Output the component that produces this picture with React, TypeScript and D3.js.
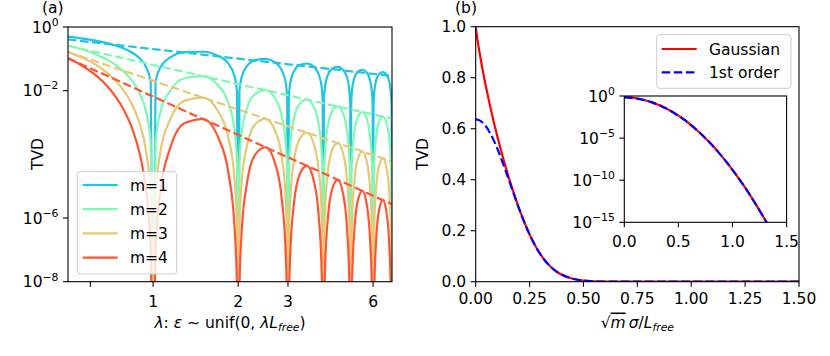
import React from 'react';
import * as d3 from 'd3';

// ---------- Panel (a) data ----------
const LAMBDA = [
  0.5, 0.55, 0.62, 0.7, 0.78, 0.85, 0.9, 0.94, 0.98, 1,
  1.02, 1.06, 1.15, 1.3, 1.5, 1.7, 1.85, 1.94, 1.98, 2,
  2.02, 2.06, 2.15, 2.3, 2.5, 2.7, 2.85, 2.94, 2.98, 3,
  3.02, 3.06, 3.15, 3.3, 3.5, 3.7, 3.85, 3.94, 3.98, 4,
  4.02, 4.06, 4.15, 4.3, 4.5, 4.7, 4.85, 4.94, 4.98, 5,
  5.02, 5.06, 5.15, 5.3, 5.5, 5.7, 5.85, 5.94, 5.98, 6,
  6.02, 6.06, 6.15, 6.3, 6.5, 6.7, 6.85, 6.94, 6.98, 7,
];

const TVD_M1 = [
  0.5, 0.45, 0.38, 0.3, 0.22, 0.15, 0.1, 0.06, 0.02, 1e-12,
  0.0192, 0.0532, 0.111, 0.162, 0.167, 0.124, 0.0689, 0.0291, 0.0099, 1e-12,
  0.0097, 0.0274, 0.0593, 0.0913, 0.1, 0.0778, 0.0447, 0.0192, 0.00658, 1e-12,
  0.00649, 0.0184, 0.0405, 0.0636, 0.0714, 0.0568, 0.0331, 0.0143, 0.00492, 1e-12,
  0.00488, 0.0139, 0.0307, 0.0488, 0.0556, 0.0447, 0.0263, 0.0114, 0.00394, 1e-12,
  0.0039, 0.0112, 0.0248, 0.0396, 0.0455, 0.0368, 0.0218, 0.0095, 0.00328, 1e-12,
  0.00326, 0.00931, 0.0207, 0.0333, 0.0385, 0.0313, 0.0186, 0.00813, 0.00281, 1e-12,
];

const TVD_M2 = [
  0.258, 0.208, 0.145, 0.0861, 0.0431, 0.0184, 0.00761, 0.00256, 0.000265, 1e-12,
  2.45e-4, 2.02e-3, 1.005e-2, 2.5e-2, 2.87e-2, 1.46e-2, 3.88e-3, 6.02e-4, 6.49e-5, 1e-12,
  6.23e-5, 5.34e-4, 2.88e-3, 7.98e-3, 1.03e-2, 5.79e-3, 1.64e-3, 2.62e-4, 2.87e-5, 1e-12,
  2.79e-5, 2.42e-4, 1.34e-3, 3.88e-3, 5.27e-3, 3.08e-3, 8.97e-4, 1.46e-4, 1.61e-5, 1e-12,
  1.58e-5, 1.37e-4, 7.72e-4, 2.28e-3, 3.19e-3, 1.91e-3, 5.65e-4, 9.28e-5, 1.03e-5, 1e-12,
  1.01e-5, 8.85e-5, 5.01e-4, 1.5e-3, 2.13e-3, 1.3e-3, 3.88e-4, 6.42e-5, 7.12e-6, 1e-12,
  7.02e-6, 6.17e-5, 3.52e-4, 1.06e-3, 1.53e-3, 9.4e-4, 2.83e-4, 4.7e-5, 5.22e-6, 1e-12,
];

const TVD_M3 = [
  0.164, 0.119, 0.0692, 0.0317, 0.0112, 0.00313, 8.31e-4, 1.63e-4, 5.4e-6, 1e-12,
  4.79e-6, 1.13e-4, 1.26e-3, 4.95e-3, 6.08e-3, 2.21e-3, 3.03e-4, 1.85e-5, 6.55e-7, 1e-12,
  6.17e-7, 1.55e-5, 1.93e-4, 8.94e-4, 1.31e-3, 5.52e-4, 8.3e-5, 5.32e-6, 1.92e-7, 1e-12,
  1.85e-7, 4.72e-6, 6.15e-5, 3.03e-4, 4.79e-4, 2.15e-4, 3.37e-5, 2.21e-6, 8.07e-8, 1e-12,
  7.83e-8, 2.02e-6, 2.69e-5, 1.37e-4, 2.25e-4, 1.05e-4, 1.68e-5, 1.12e-6, 4.12e-8, 1e-12,
  4.02e-8, 1.04e-6, 1.41e-5, 7.3e-5, 1.23e-4, 5.87e-5, 9.59e-6, 6.45e-7, 2.38e-8, 1e-12,
  2.33e-8, 6.07e-7, 8.26e-6, 4.35e-5, 7.48e-5, 3.61e-5, 5.98e-6, 4.04e-7, 1.5e-8, 1e-12,
];

const TVD_M4 = [
  0.105, 0.0679, 0.033, 0.0117, 2.91e-3, 5.32e-4, 9.09e-5, 1.03e-5, 1.1e-7, 1e-12,
  9.39e-8, 6.39e-6, 1.59e-4, 9.81e-4, 1.29e-3, 3.35e-4, 2.37e-5, 5.69e-7, 6.61e-9, 1e-12,
  6.1e-9, 4.47e-7, 1.3e-5, 1.0e-4, 1.67e-4, 5.27e-5, 4.21e-6, 1.08e-7, 1.29e-9, 1e-12,
  1.22e-9, 9.19e-8, 2.82e-6, 2.36e-5, 4.35e-5, 1.49e-5, 1.26e-6, 3.34e-8, 4.05e-10, 1e-12,
  3.89e-10, 2.97e-8, 9.37e-7, 8.19e-6, 1.59e-5, 5.74e-6, 5.02e-7, 1.35e-8, 1.65e-10, 1e-12,
  1.6e-10, 1.23e-8, 3.95e-7, 3.55e-6, 7.14e-6, 2.65e-6, 2.37e-7, 6.47e-9, 7.95e-11, 1e-12,
  7.74e-11, 5.97e-9, 1.94e-7, 1.78e-6, 3.66e-6, 1.39e-6, 1.26e-7, 3.47e-9, 4.28e-11, 1e-12,
];

// first-order envelopes (straight lines on log-log axes): endpoints
const ENV_LAMBDA = [0.5, 7];
const ENV_M1 = [0.405, 0.029];
const ENV_M2 = [0.258, 1.32e-3];
const ENV_M3 = [0.164, 5.99e-5];
const ENV_M4 = [0.1046, 2.72e-6];

const SERIES_NAMES = ['m=1', 'm=2', 'm=3', 'm=4'];
const A_XTICKS = [0.6, 1, 2, 3, 6];
const A_XTICK_LABELS = ['', '1', '2', '3', '6'];
const A_YTICKS = [1, 1e-2, 1e-6, 1e-8];
const A_YTICK_EXP = ['0', '\u22122', '\u22126', '\u22128'];

// ---------- Panel (b) data ----------
const S = [
  0, 0.01, 0.02, 0.03, 0.04, 0.05, 0.06, 0.07, 0.08, 0.09, 0.1, 0.11, 0.12, 0.13, 0.14, 0.15,
  0.175, 0.2, 0.225, 0.25, 0.275, 0.3, 0.325, 0.35, 0.375, 0.4, 0.45, 0.5, 0.55, 0.6, 0.7,
  0.8, 0.9, 1.0, 1.1, 1.2, 1.3, 1.4, 1.5,
];
const GAUSSIAN = [
  1.0, 0.939, 0.888, 0.841, 0.796, 0.755, 0.715, 0.677, 0.64, 0.605, 0.571, 0.539, 0.507, 0.477, 0.447, 0.418,
  0.352, 0.29, 0.2344, 0.1854, 0.1431, 0.1077, 0.07914, 0.05672, 0.03965, 0.02705, 0.01169, 0.00458, 0.001624, 5.22e-4, 4.01e-5,
  2.08e-6, 7.25e-8, 1.71e-9, 2.7e-11, 2.88e-13, 2.07e-15, 1.0e-17, 3.28e-20,
];
const FIRST_ORDER = [
  0.6366, 0.6353, 0.6316, 0.6254, 0.6168, 0.6059, 0.5929, 0.5779, 0.5611, 0.5425, 0.5226, 0.5013, 0.4791, 0.456, 0.4324, 0.4083,
  0.3478, 0.289, 0.2344, 0.1854, 0.1431, 0.1077, 0.07914, 0.05672, 0.03965, 0.02705, 0.01169, 0.00458, 0.001624, 5.22e-4, 4.01e-5,
  2.08e-6, 7.25e-8, 1.71e-9, 2.7e-11, 2.88e-13, 2.07e-15, 1.0e-17, 3.28e-20,
];
const B_XTICKS = [0, 0.25, 0.5, 0.75, 1.0, 1.25, 1.5];
const B_YTICKS = [0, 0.2, 0.4, 0.6, 0.8, 1.0];
const INSET_XTICKS = [0, 0.5, 1.0, 1.5];
const INSET_YTICKS = [1, 1e-5, 1e-10, 1e-15];
const INSET_YTICK_EXP = ['0', '\u22125', '\u221210', '\u221215'];
const LEGEND_B = ['Gaussian', '1st order'];

// ---------- styles ----------
const FONT = '"DejaVu Sans", sans-serif';
const FS = 15.5;
const SUP = 10.8;
const COLORS = ['#1fc6e1', '#80f7b3', '#e6c877', '#ff5533'];
const RED = '#ff0000';
const BLUE = '#0000ff';
const DASH = '8.5 3.6';
const LW = 2.2;
const TICK = 5;

function Pow10({ x, y, exp, anchor = 'end' }: any) {
  return (
    <text x={x} y={y} textAnchor={anchor} fontSize={FS} fontFamily={FONT} fill="#000">
      <tspan>10</tspan>
      <tspan fontSize={SUP} dy={-6.8}>{exp}</tspan>
    </text>
  );
}

export default function App() {
  // panel (a) scales
  const ax = { l: 68, r: 392, t: 27, b: 281.7 };
  const xa = d3.scaleLog().domain([0.5, 7]).range([ax.l, ax.r]);
  const ya = d3.scaleLog().domain([1e-8, 1]).range([ax.b, ax.t]);

  // panel (b)
  const bx = { l: 475.7, r: 799, t: 26.7, b: 281.7 };
  const xb = d3.scaleLinear().domain([0, 1.5]).range([bx.l, bx.r]);
  const yb = d3.scaleLinear().domain([0, 1]).range([bx.b, bx.t]);

  // inset
  const ix = { l: 624.3, r: 786.6, t: 96, b: 222.3 };
  const xi = d3.scaleLinear().domain([0, 1.5]).range([ix.l, ix.r]);
  const yi = d3.scaleLog().domain([1e-15, 1]).range([ix.b, ix.t]);

  const lineA = d3
    .line<[number, number]>()
    .x((d) => xa(d[0]))
    .y((d) => ya(d[1]))
    .curve(d3.curveMonotoneX);
  const envA = d3
    .line<[number, number]>()
    .x((d) => xa(d[0]))
    .y((d) => ya(d[1]));
  const lineB = d3
    .line<[number, number]>()
    .x((d) => xb(d[0]))
    .y((d) => yb(d[1]))
    .curve(d3.curveMonotoneX);
  const lineI = d3
    .line<[number, number]>()
    .x((d) => xi(d[0]))
    .y((d) => yi(d[1]))
    .curve(d3.curveMonotoneX);

  const solids = [TVD_M1, TVD_M2, TVD_M3, TVD_M4];
  const envs = [ENV_M1, ENV_M2, ENV_M3, ENV_M4];
  const zip = (xs: number[], ys: number[]) => xs.map((x, i) => [x, ys[i]] as [number, number]);

  return (
    <svg
      width={830}
      height={356}
      viewBox="0 0 830 356"
      style={{ position: 'fixed', left: 0, top: 0, background: '#fff' }}
      fontFamily={FONT}
    >
      <defs>
        <clipPath id="clipA">
          <rect x={ax.l} y={ax.t} width={ax.r - ax.l} height={ax.b - ax.t} />
        </clipPath>
        <clipPath id="clipB">
          <rect x={bx.l} y={bx.t} width={bx.r - bx.l} height={bx.b - bx.t} />
        </clipPath>
        <clipPath id="clipI">
          <rect x={ix.l} y={ix.t} width={ix.r - ix.l} height={ix.b - ix.t} />
        </clipPath>
      </defs>
      <rect x={0} y={0} width={830} height={356} fill="#fff" />

      {/* ================= Panel (a) ================= */}
      <g clipPath="url(#clipA)">
        {solids.map((vals, i) => (
          <g key={i}>
            <path d={lineA(zip(LAMBDA, vals)) || ''} fill="none" stroke={COLORS[i]} strokeWidth={LW} strokeLinejoin="round" />
            <path d={envA(zip(ENV_LAMBDA, envs[i])) || ''} fill="none" stroke={COLORS[i]} strokeWidth={LW} strokeDasharray={DASH} />
          </g>
        ))}
      </g>
      <rect x={ax.l} y={ax.t} width={ax.r - ax.l} height={ax.b - ax.t} fill="none" stroke="#000" strokeWidth={1.1} />
      {A_XTICKS.map((t, i) => (
        <g key={i}>
          <line x1={xa(t)} x2={xa(t)} y1={ax.b} y2={ax.b + TICK} stroke="#000" strokeWidth={1.1} />
          <text x={xa(t)} y={307} textAnchor="middle" fontSize={FS}>{A_XTICK_LABELS[i]}</text>
        </g>
      ))}
      {A_YTICKS.map((t, i) => (
        <g key={i}>
          <line x1={ax.l - TICK} x2={ax.l} y1={ya(t)} y2={ya(t)} stroke="#000" strokeWidth={1.1} />
          <Pow10 x={ax.l - 9.5} y={ya(t) + 5.6} exp={A_YTICK_EXP[i]} />
        </g>
      ))}
      <text x={37} y={154} fontSize={FS} textAnchor="middle" dy="0.36em" transform="rotate(-90 37 154)">TVD</text>
      <text x={(ax.l + ax.r) / 2} y={327.5} fontSize={FS} textAnchor="middle">
        <tspan fontStyle="italic">λ</tspan>
        <tspan>: </tspan>
        <tspan fontStyle="italic">ε</tspan>
        <tspan>{' \u223c  unif(0, '}</tspan>
        <tspan fontStyle="italic">λL</tspan>
        <tspan fontStyle="italic" fontSize={SUP} dy={3}>free</tspan>
        <tspan dy={-3}>)</tspan>
      </text>
      <text x={42} y={12.5} fontSize={FS}>(a)</text>

      {/* legend (a) */}
      <rect x={77.3} y={171.7} width={99.4} height={102.3} rx={3} fill="#fff" fillOpacity={0.8} stroke="#cccccc" strokeWidth={1} />
      {SERIES_NAMES.map((n, i) => {
        const y = 185 + i * 24.2;
        return (
          <g key={n}>
            <line x1={82.7} x2={117.7} y1={y} y2={y} stroke={COLORS[i]} strokeWidth={LW} />
            <text x={130} y={y + 5.6} fontSize={FS}>{n}</text>
          </g>
        );
      })}

      {/* ================= Panel (b) ================= */}
      <g clipPath="url(#clipB)">
        <path d={lineB(zip(S, GAUSSIAN)) || ''} fill="none" stroke={RED} strokeWidth={LW} />
        <path d={lineB(zip(S, FIRST_ORDER)) || ''} fill="none" stroke={BLUE} strokeWidth={LW} strokeDasharray={DASH} />
      </g>
      <rect x={bx.l} y={bx.t} width={bx.r - bx.l} height={bx.b - bx.t} fill="none" stroke="#000" strokeWidth={1.1} />
      {B_XTICKS.map((t) => (
        <g key={t}>
          <line x1={xb(t)} x2={xb(t)} y1={bx.b} y2={bx.b + TICK} stroke="#000" strokeWidth={1.1} />
          <text x={xb(t)} y={303.5} textAnchor="middle" fontSize={FS}>{t.toFixed(2)}</text>
        </g>
      ))}
      {B_YTICKS.map((t) => (
        <g key={t}>
          <line x1={bx.l - TICK} x2={bx.l} y1={yb(t)} y2={yb(t)} stroke="#000" strokeWidth={1.1} />
          <text x={bx.l - 9.5} y={yb(t) + 5.6} textAnchor="end" fontSize={FS}>{t.toFixed(1)}</text>
        </g>
      ))}
      <text x={422.5} y={154} fontSize={FS} textAnchor="middle" dy="0.36em" transform="rotate(-90 422.5 154)">TVD</text>
      <text x={(bx.l + bx.r) / 2} y={327.5} fontSize={FS} textAnchor="middle">
        <tspan>{'\u221a'}</tspan>
        <tspan fontStyle="italic" style={{ textDecoration: 'overline' }}>m</tspan>
        <tspan fontStyle="italic">{'\u2009σ'}</tspan>
        <tspan>/</tspan>
        <tspan fontStyle="italic">L</tspan>
        <tspan fontStyle="italic" fontSize={SUP} dy={3}>free</tspan>
      </text>
      <text x={455} y={12.5} fontSize={FS}>(b)</text>

      {/* inset */}
      <rect x={ix.l} y={ix.t} width={ix.r - ix.l} height={ix.b - ix.t} fill="#fff" />
      <g clipPath="url(#clipI)">
        <path d={lineI(zip(S, GAUSSIAN)) || ''} fill="none" stroke={RED} strokeWidth={LW} />
        <path d={lineI(zip(S, FIRST_ORDER)) || ''} fill="none" stroke={BLUE} strokeWidth={LW} strokeDasharray={DASH} />
      </g>
      <rect x={ix.l} y={ix.t} width={ix.r - ix.l} height={ix.b - ix.t} fill="none" stroke="#000" strokeWidth={1.1} />
      {INSET_XTICKS.map((t) => (
        <g key={t}>
          <line x1={xi(t)} x2={xi(t)} y1={ix.b} y2={ix.b + TICK} stroke="#000" strokeWidth={1.1} />
          <text x={xi(t)} y={246.5} textAnchor="middle" fontSize={FS}>{t.toFixed(1)}</text>
        </g>
      ))}
      {INSET_YTICKS.map((t, i) => (
        <g key={i}>
          <line x1={ix.l - TICK} x2={ix.l} y1={yi(t)} y2={yi(t)} stroke="#000" strokeWidth={1.1} />
          <Pow10 x={ix.l - 9.5} y={yi(t) + 5.6} exp={INSET_YTICK_EXP[i]} />
        </g>
      ))}

      {/* legend (b) */}
      <rect x={656.7} y={34.7} width={134.3} height={53.6} rx={3} fill="#fff" fillOpacity={0.8} stroke="#cccccc" strokeWidth={1} />
      {LEGEND_B.map((n, i) => {
        const y = 49 + i * 23.3;
        return (
          <g key={n}>
            <line x1={661.7} x2={696.7} y1={y} y2={y} stroke={i === 0 ? RED : BLUE} strokeWidth={LW} strokeDasharray={i === 0 ? undefined : DASH} />
            <text x={709} y={y + 5.6} fontSize={FS}>{n}</text>
          </g>
        );
      })}
    </svg>
  );
}
